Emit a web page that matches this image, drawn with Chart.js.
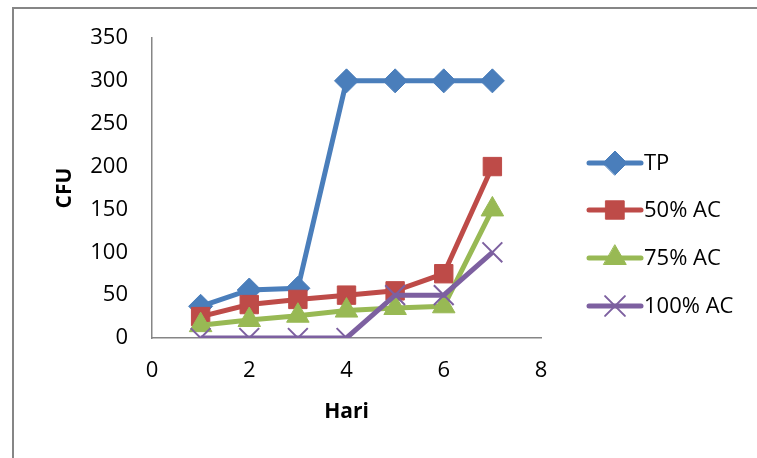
<!DOCTYPE html>
<html>
<head>
<meta charset="utf-8">
<script src="https://cdn.jsdelivr.net/npm/chart.js@4/dist/chart.umd.min.js"></script>
<style>
  body { margin: 0; background: #fff; }
  #wrap { width: 757px; height: 458px; position: relative; }
</style>
</head>
<body>
<div id="wrap"><canvas id="cfuChart" width="757" height="458"></canvas></div>
<script>
// data
var days = [1, 2, 3, 4, 5, 6, 7];
var tp = [37, 56, 58, 300, 300, 300, 300];
var ac50 = [25, 39, 45, 50, 55, 75, 200];
var ac75 = [15, 21, 26, 32, 35, 37, 150];
var ac100 = [0, 0, 0, 0, 50, 50, 100];
var seriesNames = ['TP', '50% AC', '75% AC', '100% AC'];

function toPoints(vals) {
  return days.map(function (d, i) { return { x: d, y: vals[i] }; });
}

var FONT = "'Open Sans', 'Liberation Sans', sans-serif";

var styles = [
  { color: '#4a7ebb', pointStyle: 'rectRot', radius: 12, pointBorder: 1 },
  { color: '#be4b48', pointStyle: 'rect', radius: 13, pointBorder: 1 },
  { color: '#98b954', pointStyle: 'triangle', radius: 13, pointBorder: 1 },
  { color: '#7d60a0', pointStyle: 'crossRot', radius: 14, pointBorder: 2 }
];
var allValues = [tp, ac50, ac75, ac100];

var datasets = allValues.map(function (vals, i) {
  var s = styles[i];
  return {
    label: seriesNames[i],
    data: toPoints(vals),
    showLine: true,
    borderColor: s.color,
    backgroundColor: s.color,
    borderWidth: 5,
    pointStyle: s.pointStyle,
    pointRadius: s.radius,
    pointHoverRadius: s.radius,
    pointBorderWidth: s.pointBorder,
    pointBorderColor: s.color,
    pointBackgroundColor: s.color,
    order: 3 - i
  };
});

// outer frame and legend with line + marker
var framePlugin = {
  id: 'frame',
  beforeDraw: function (chart) {
    var ctx = chart.ctx;
    ctx.save();
    ctx.fillStyle = '#fff';
    ctx.fillRect(0, 0, chart.width, chart.height);
    ctx.strokeStyle = '#868686';
    ctx.lineWidth = 2;
    ctx.strokeRect(13, 8, 800, 500);
    ctx.restore();
  },
  afterDraw: function (chart) {
    var ctx = chart.ctx;
    var ys = [163, 210, 258, 306];
    ctx.save();
    for (var i = 0; i < styles.length; i++) {
      var s = styles[i];
      var y = ys[i];
      ctx.strokeStyle = s.color;
      ctx.lineWidth = 5;
      ctx.lineCap = 'round';
      ctx.beginPath();
      ctx.moveTo(589, y);
      ctx.lineTo(641, y);
      ctx.stroke();
      ctx.fillStyle = s.color;
      ctx.lineWidth = s.pointBorder;
      Chart.helpers.drawPoint(ctx, { pointStyle: s.pointStyle, radius: s.radius, borderWidth: s.pointBorder, rotation: 0 }, 615, y);
      ctx.fillStyle = '#000';
      ctx.font = '22px ' + FONT;
      ctx.textBaseline = 'middle';
      ctx.textAlign = 'left';
      ctx.fillText(seriesNames[i], 644, y + 1);
    }
    ctx.restore();
  }
};

var ctx = document.getElementById('cfuChart').getContext('2d');
var cfuChart = new Chart(ctx, {
  type: 'scatter',
  data: { datasets: datasets },
  plugins: [framePlugin],
  options: {
    responsive: false,
    animation: false,
    layout: { padding: { left: 0, right: 216, top: 38, bottom: 0 } },
    plugins: {
      legend: { display: false },
      tooltip: { enabled: false }
    },
    scales: {
      x: {
        type: 'linear',
        min: 0,
        max: 8,
        ticks: { stepSize: 2, color: '#000', padding: 20, font: { family: FONT, size: 22 } },
        grid: { display: false, drawTicks: false },
        border: { display: true, color: '#868686', width: 1.5 },
        title: { display: true, text: 'Hari', color: '#000', padding: { top: 0, bottom: 33 }, font: { family: FONT, size: 21, weight: 'bold' } },
        afterFit: function (scale) { scale.height = 120; }
      },
      y: {
        type: 'linear',
        min: 0,
        max: 350,
        ticks: { stepSize: 50, color: '#000', padding: 24, font: { family: FONT, size: 22 } },
        grid: { display: false, drawTicks: false },
        border: { display: true, color: '#868686', width: 1.5 },
        title: { display: true, text: 'CFU', color: '#000', padding: { top: 52, bottom: 0 }, font: { family: FONT, size: 21, weight: 'bold' } },
        afterFit: function (scale) { scale.width = 152; }
      }
    }
  }
});
</script>
</body>
</html>
